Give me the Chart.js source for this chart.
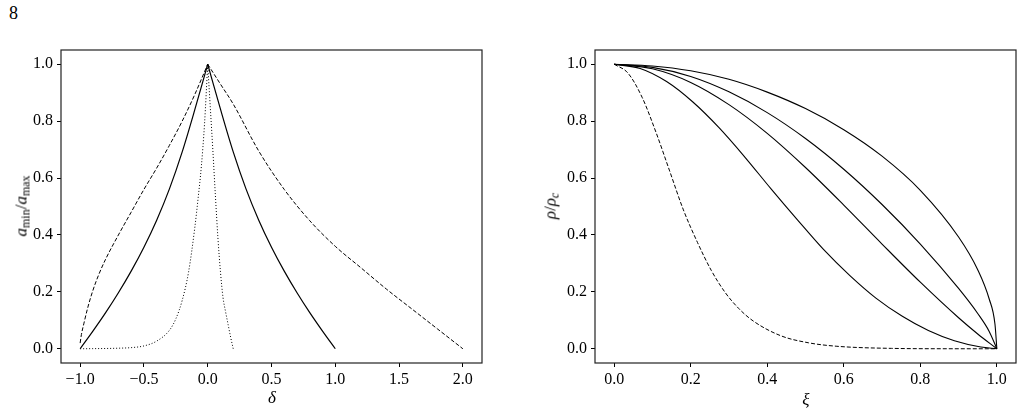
<!DOCTYPE html>
<html>
<head>
<meta charset="utf-8">
<script src="https://cdn.jsdelivr.net/npm/chart.js@4.4.1/dist/chart.umd.min.js"></script>
<style>
  body { margin: 0; background: #fff; width: 1023px; height: 414px; overflow: hidden; position: relative;
         font-family: 'Liberation Serif', 'Times New Roman', serif; color: #000; }
  canvas { position: absolute; top: 0; }
  .lbl { position: absolute; white-space: nowrap; font-size: 17px; line-height: 1; }
  .rot { transform: translate(-50%, -50%) rotate(-90deg); }
  .ctr { transform: translate(-50%, -50%); }
  sub { font-size: 12px; vertical-align: -3px; }
</style>
</head>
<body>
<div class="lbl" style="left:9px;top:4px;font-size:18px">8</div>
<canvas id="left" width="500" height="414" style="left:0"></canvas>
<canvas id="right" width="513" height="414" style="left:510px"></canvas>
<div class="lbl rot" style="left:22px;top:206px"><i>a</i><sub>min</sub>/<i>a</i><sub>max</sub></div>
<div class="lbl ctr" style="left:272px;top:397px"><i>δ</i></div>
<div class="lbl rot" style="left:551px;top:206px"><i>ρ</i>/<i>ρ</i><sub><i>c</i></sub></div>
<div class="lbl ctr" style="left:806px;top:399px"><i>ξ</i></div>
<script>
// left panel: a_min/a_max against delta
var deltaDashL = [-1, -0.99, -0.97, -0.94, -0.9, -0.85, -0.8, -0.7, -0.6, -0.5, -0.4, -0.3, -0.2, -0.1, 0];
var aDashL     = [0.02, 0.05, 0.09, 0.145, 0.205, 0.265, 0.315, 0.4, 0.48, 0.56, 0.635, 0.715, 0.8, 0.895, 1];
var deltaDashR = [0, 0.1, 0.2, 0.4, 0.6, 0.8, 1.0, 1.2, 1.4, 1.6, 1.8, 2.0];
var aDashR     = [1, 0.93, 0.86, 0.695, 0.56, 0.45, 0.36, 0.285, 0.21, 0.14, 0.07, 0];

var deltaSolidL = [-1, -0.9, -0.8, -0.7, -0.6, -0.5, -0.4, -0.3, -0.2, -0.1, 0];
var aSolidL     = [0, 0.062, 0.127, 0.197, 0.273, 0.357, 0.452, 0.562, 0.692, 0.842, 1];
var deltaSolidR = [0, 0.1, 0.2, 0.3, 0.4, 0.5, 0.6, 0.7, 0.8, 0.9, 1];
var aSolidR     = [1, 0.842, 0.692, 0.562, 0.452, 0.357, 0.273, 0.197, 0.127, 0.062, 0];

var deltaDotL = [-1, -0.9, -0.8, -0.7, -0.6, -0.5, -0.4, -0.3, -0.25, -0.2, -0.15, -0.1, -0.075, -0.05, -0.025, 0];
var aDotL     = [0, 0.0005, 0.001, 0.002, 0.004, 0.01, 0.027, 0.065, 0.105, 0.17, 0.27, 0.43, 0.53, 0.64, 0.79, 1];
var deltaDotR = [0, 0.02, 0.04, 0.06, 0.08, 0.1, 0.12, 0.14, 0.16, 0.18, 0.2];
var aDotR     = [1, 0.85, 0.7, 0.54, 0.39, 0.27, 0.18, 0.13, 0.085, 0.04, 0];

// right panel: rho/rho_c against xi
var xiA  = [0, 0.1, 0.2, 0.3, 0.4, 0.5, 0.6, 0.7, 0.8, 0.9, 0.95, 0.98, 0.995, 1];
var rhoA = [1, 0.994, 0.977, 0.947, 0.902, 0.844, 0.77, 0.677, 0.557, 0.393, 0.278, 0.175, 0.087, 0];
var xiB  = [0, 0.1, 0.2, 0.3, 0.4, 0.5, 0.6, 0.7, 0.8, 0.9, 0.95, 0.98, 1];
var rhoB = [1, 0.989, 0.957, 0.903, 0.83, 0.739, 0.631, 0.507, 0.368, 0.212, 0.124, 0.061, 0];
var xiC  = [0, 0.1, 0.2, 0.3, 0.4, 0.5, 0.6, 0.7, 0.8, 0.9, 0.95, 1];
var rhoC = [1, 0.984, 0.936, 0.858, 0.757, 0.637, 0.505, 0.368, 0.234, 0.109, 0.052, 0];
var xiD  = [0, 0.068, 0.137, 0.205, 0.274, 0.342, 0.41, 0.479, 0.547, 0.616, 0.684, 0.753, 0.821, 0.889, 0.958, 1];
var rhoD = [1, 0.985, 0.939, 0.868, 0.777, 0.673, 0.562, 0.453, 0.349, 0.257, 0.178, 0.114, 0.064, 0.028, 0.006, 0];
var xiE  = [0, 0.036, 0.073, 0.109, 0.145, 0.181, 0.218, 0.254, 0.29, 0.326, 0.363, 0.435, 0.508, 0.58, 0.725, 0.87, 1];
var rhoE = [1, 0.969, 0.884, 0.762, 0.625, 0.488, 0.373, 0.275, 0.198, 0.141, 0.098, 0.046, 0.021, 0.009, 0.0014, 0.0001, 0];

var ticksDelta = [-1, -0.5, 0, 0.5, 1, 1.5, 2];
var ticksUnit  = [0, 0.2, 0.4, 0.6, 0.8, 1];

var FONT = "'Liberation Serif', 'Times New Roman', serif";

function pts(xs, ys) {
  return xs.map(function (x, i) { return { x: x, y: ys[i] }; });
}

function curve(xs, ys, dash, width) {
  return {
    data: pts(xs, ys),
    showLine: true,
    borderColor: '#000',
    borderWidth: width,
    borderDash: dash,
    pointRadius: 0,
    cubicInterpolationMode: 'monotone',
    fill: false
  };
}

function fmt(v) {
  return (v < 0 ? '\u2212' : '') + Math.abs(v).toFixed(1);
}

function axis(min, max, tickVals, isX, size) {
  return {
    type: 'linear',
    min: min,
    max: max,
    afterBuildTicks: function (s) { s.ticks = tickVals.map(function (v) { return { value: v }; }); },
    afterFit: function (s) { if (isX) s.height = size; else s.width = size; },
    grid: { drawOnChartArea: false, drawTicks: true, tickLength: 4, color: '#000', tickWidth: 1 },
    border: { display: false },
    ticks: {
      color: '#000',
      font: { family: FONT, size: 16 },
      padding: isX ? 3 : 4,
      maxRotation: 0,
      autoSkip: false,
      callback: fmt
    }
  };
}

var framePlugin = {
  id: 'frame',
  afterDraw: function (chart) {
    var a = chart.chartArea, c = chart.ctx;
    c.save();
    c.strokeStyle = '#222';
    c.lineWidth = 1.2;
    c.strokeRect(a.left, a.top, a.right - a.left, a.bottom - a.top);
    c.restore();
  }
};

function opts(xMin, xMax, xTicks, yWidth, padRight) {
  return {
    responsive: false,
    animation: false,
    layout: { padding: { top: 50, right: padRight, left: 0, bottom: 0 } },
    plugins: { legend: { display: false }, tooltip: { enabled: false } },
    scales: {
      x: axis(xMin, xMax, xTicks, true, 51),
      y: axis(-0.05, 1.05, ticksUnit, false, yWidth)
    }
  };
}

new Chart(document.getElementById('left'), {
  type: 'scatter',
  data: {
    datasets: [
      curve(deltaDashL, aDashL, [4, 2], 1),
      curve(deltaDashR, aDashR, [4, 2], 1),
      curve(deltaSolidL, aSolidL, [], 1.2),
      curve(deltaSolidR, aSolidR, [], 1.2),
      curve(deltaDotL, aDotL, [1, 2], 1),
      curve(deltaDotR, aDotR, [1, 2], 1)
    ]
  },
  options: opts(-1.15, 2.15, ticksDelta, 61, 18),
  plugins: [framePlugin]
});

new Chart(document.getElementById('right'), {
  type: 'scatter',
  data: {
    datasets: [
      curve(xiA, rhoA, [], 1.1),
      curve(xiB, rhoB, [], 1.1),
      curve(xiC, rhoC, [], 1.1),
      curve(xiD, rhoD, [], 1.1),
      curve(xiE, rhoE, [4, 2], 1)
    ]
  },
  options: opts(-0.05, 1.05, ticksUnit, 85, 7),
  plugins: [framePlugin]
});
</script>
</body>
</html>
